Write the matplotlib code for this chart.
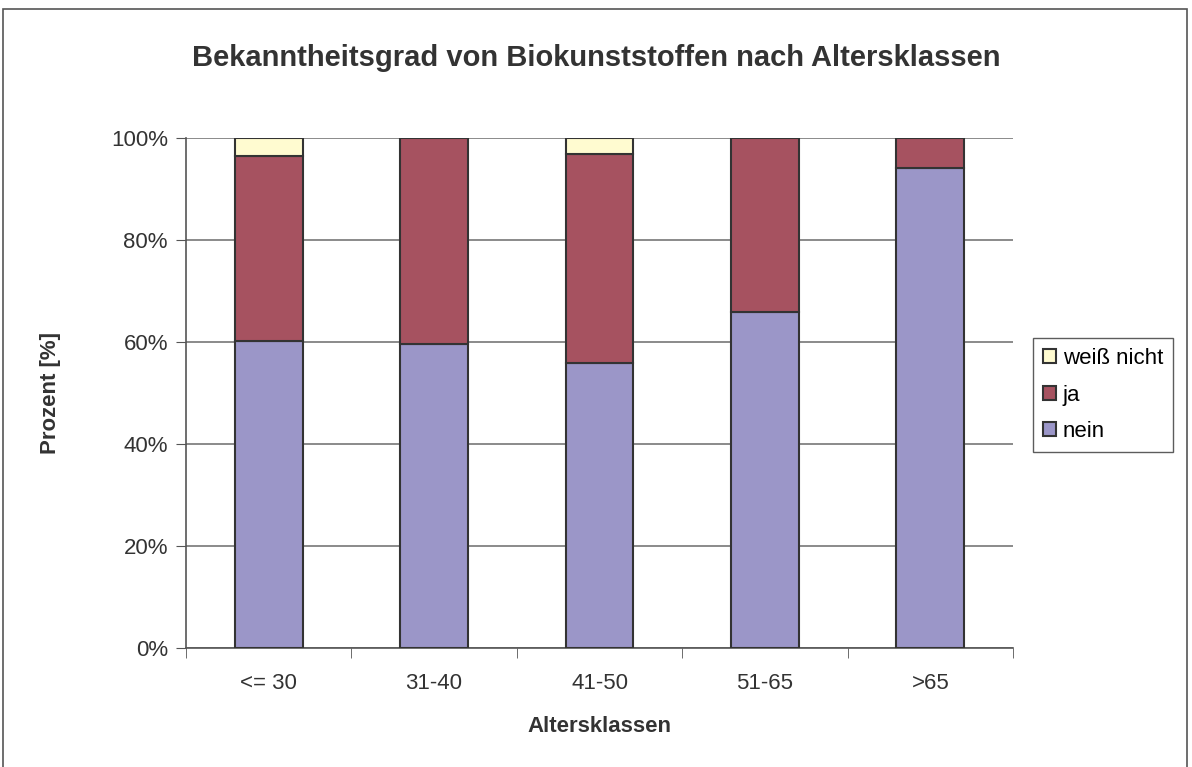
import numpy as np
import matplotlib
matplotlib.use("Agg")
import matplotlib.pyplot as plt
from matplotlib.patches import Rectangle

plt.rcParams['font.family'] = ['Liberation Sans', 'DejaVu Sans']

kategorien = ['<= 30', '31-40', '41-50', '51-65', '>65']
nein = [60.1, 59.7, 55.9, 65.9, 94.1]
ja = [36.3, 40.3, 40.9, 34.1, 5.9]
weiss_nicht = [3.6, 0.0, 3.2, 0.0, 0.0]

farbe_nein = '#9b96c8'
farbe_ja = '#a65260'
farbe_wn = '#fffbd0'
kante = '#333333'

fig = plt.figure(figsize=(11.92, 7.67), dpi=100)
ax = fig.add_axes([186/1192, 1 - 648/767, 827/1192, 510/767])

# Rahmen um das ganze Diagramm
fig.patches.append(Rectangle((3/1192, -0.01), 1184/1192, 1 - 9/767 + 0.01,
                             transform=fig.transFigure, fill=False,
                             edgecolor='#555555', linewidth=1.2))

x = np.arange(len(kategorien))
breite = 0.41
ax.bar(x, nein, breite, color=farbe_nein, edgecolor=kante, linewidth=1.5, label='nein', zorder=3)
ax.bar(x, ja, breite, bottom=nein, color=farbe_ja, edgecolor=kante, linewidth=1.5, label='ja', zorder=3)
unten = np.array(nein) + np.array(ja)
wn_idx = [i for i, v in enumerate(weiss_nicht) if v > 0]
ax.bar(x[wn_idx], np.array(weiss_nicht)[wn_idx], breite, bottom=unten[wn_idx],
       color=farbe_wn, edgecolor=kante, linewidth=1.5, label='weiß nicht', zorder=3)

ax.set_xlim(-0.5, len(kategorien) - 0.5)
ax.set_ylim(0, 100)
ax.set_yticks(np.arange(0, 101, 20))
ax.set_yticklabels([f'{v}%' for v in range(0, 101, 20)])
ax.set_xticks(x)
ax.set_xticklabels(kategorien)
ax.set_xticks(np.arange(-0.5, len(kategorien), 1), minor=True)
ax.tick_params(axis='x', which='major', length=0, pad=18, labelsize=16, colors='#333333')
ax.tick_params(axis='x', which='minor', length=7, direction='out', color='#555555')
ax.tick_params(axis='y', length=7, direction='out', color='#555555', labelsize=16,
               labelcolor='#333333', pad=6)

ax.yaxis.grid(True, color='#777777', linewidth=1.2, zorder=0)
ax.spines['top'].set_visible(False)
ax.spines['right'].set_visible(False)
ax.spines['left'].set_color('#555555')
ax.spines['bottom'].set_color('#555555')
ax.spines['left'].set_linewidth(1.2)
ax.spines['bottom'].set_linewidth(1.2)

ax.set_xlabel('Altersklassen', fontsize=16, fontweight='bold', color='#333333', labelpad=16)
ax.set_ylabel('Prozent [%]', fontsize=16, fontweight='bold', color='#333333', labelpad=36)
fig.text(0.5, 1 - 58/767, 'Bekanntheitsgrad von Biokunststoffen nach Altersklassen',
         ha='center', va='center', fontsize=21, fontweight='bold', color='#333333')

handles, labels = ax.get_legend_handles_labels()
leg = fig.legend(handles[::-1], labels[::-1], loc='center left',
                 bbox_to_anchor=(1033/1192, 1 - 395/767), fontsize=16,
                 frameon=True, fancybox=False, edgecolor='#333333',
                 handlelength=0.6, handleheight=0.6, handletextpad=0.3,
                 labelspacing=0.7, borderpad=0.45, borderaxespad=0)
leg.get_frame().set_linewidth(1.0)

fig.savefig('out.png', dpi=100)
